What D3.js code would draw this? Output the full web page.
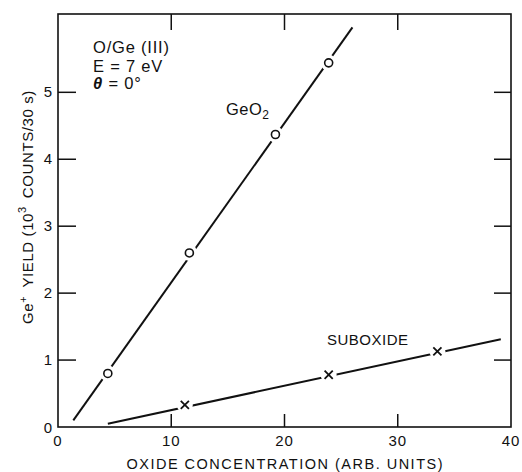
<!DOCTYPE html>
<html>
<head>
<meta charset='utf-8' />
<title>Ge+ yield vs oxide concentration</title>
<style>
  body { margin: 0; background: #fff; }
  svg text { font-family: 'Liberation Sans', Arial, sans-serif; fill: #111; }
</style>
</head>
<body>
<div id="wrapper"></div>
<script src='https://d3js.org/d3.v7.min.js' charset='utf-8'></script>
<script>
  // values
  const xTicks = [0, 10, 20, 30, 40]
  const yTicks = [0, 1, 2, 3, 4, 5]
  const geo2Points = [[4.4, 0.80], [11.6, 2.60], [19.2, 4.37], [23.9, 5.44]]
  const geo2Fit = [[1.35, 0.10], [26.0, 5.97]]
  const subPoints = [[11.2, 0.33], [23.9, 0.78], [33.5, 1.13]]
  const subFit = [[4.4, 0.05], [39.1, 1.31]]

  const width = 522, height = 472
  const margin = { top: 14, right: 11, bottom: 45, left: 58 }

  const svg = d3.select('#wrapper')
    .append('svg')
      .attr('width', width)
      .attr('height', height)

  const x = d3.scaleLinear()
    .domain([0, 40])
    .range([margin.left, width - margin.right])

  const y = d3.scaleLinear()
    .domain([0, 6.17])
    .range([height - margin.bottom, margin.top])

  const x0 = x(0), x1 = x(40), y0 = y(0), y1 = y.range()[1]

  // frame
  svg.append('rect')
    .attr('x', x0).attr('y', y1)
    .attr('width', x1 - x0).attr('height', y0 - y1)
    .attr('fill', 'none').attr('stroke', '#111').attr('stroke-width', 1.6)

  // inward ticks on all four sides
  const inner = xTicks.slice(1, -1)
  const innerY = yTicks.slice(1)
  svg.selectAll('.tb').data(inner).enter().append('line')
    .attr('x1', d => x(d)).attr('x2', d => x(d))
    .attr('y1', y0).attr('y2', y0 - 13)
    .attr('stroke', '#111').attr('stroke-width', 1.5)
  svg.selectAll('.tt').data(inner).enter().append('line')
    .attr('x1', d => x(d)).attr('x2', d => x(d))
    .attr('y1', y1).attr('y2', y1 + 16)
    .attr('stroke', '#111').attr('stroke-width', 1.5)
  svg.selectAll('.tl').data(innerY).enter().append('line')
    .attr('x1', x0).attr('x2', x0 + 18)
    .attr('y1', d => y(d)).attr('y2', d => y(d))
    .attr('stroke', '#111').attr('stroke-width', 1.5)
  svg.selectAll('.tr').data(innerY).enter().append('line')
    .attr('x1', x1).attr('x2', x1 - 17)
    .attr('y1', d => y(d)).attr('y2', d => y(d))
    .attr('stroke', '#111').attr('stroke-width', 1.5)

  // tick labels
  svg.selectAll('.xl').data(xTicks).enter().append('text')
    .attr('x', d => x(d)).attr('y', y0 + 19)
    .attr('text-anchor', 'middle').attr('font-size', 15)
    .attr('letter-spacing', 1)
    .text(d => d)
  svg.selectAll('.yl').data(yTicks).enter().append('text')
    .attr('x', x0 - 6).attr('y', d => y(d) + 5 + (d === 0 ? 1 : 0))
    .attr('text-anchor', 'end').attr('font-size', 15)
    .text(d => d)

  // axis titles
  svg.append('text')
    .attr('x', (x0 + x1) / 2).attr('y', 469)
    .attr('text-anchor', 'middle').attr('font-size', 14.5)
    .attr('textLength', 316).attr('lengthAdjust', 'spacing')
    .text('OXIDE CONCENTRATION (ARB. UNITS)')

  const yt = svg.append('text')
    .attr('transform', 'translate(33,207) rotate(-90)')
    .attr('text-anchor', 'middle').attr('font-size', 15)
    .attr('letter-spacing', 0.6)
  yt.append('tspan').text('Ge')
  yt.append('tspan').attr('dy', -6).attr('font-size', 11).text('+')
  yt.append('tspan').attr('dy', 6).text('\u2002YIELD (10')
  yt.append('tspan').attr('dy', -7).attr('font-size', 11).text('3')
  yt.append('tspan').attr('dy', 7).text('\u2002COUNTS/30 s)')

  // fitted lines
  const line = d3.line().x(d => x(d[0])).y(d => y(d[1]))
  svg.append('path').datum(geo2Fit).attr('d', line)
    .attr('fill', 'none').attr('stroke', '#111').attr('stroke-width', 2)
  svg.append('path').datum(subFit).attr('d', line)
    .attr('fill', 'none').attr('stroke', '#111').attr('stroke-width', 2)

  // gaps in the lines around the markers
  svg.selectAll('.gap').data(geo2Points.concat(subPoints)).enter().append('circle')
    .attr('cx', d => x(d[0])).attr('cy', d => y(d[1])).attr('r', 8)
    .attr('fill', '#fff')

  // GeO2 markers: open circles
  svg.selectAll('.geo').data(geo2Points).enter().append('circle')
    .attr('cx', d => x(d[0])).attr('cy', d => y(d[1])).attr('r', 4)
    .attr('fill', 'none').attr('stroke', '#111').attr('stroke-width', 1.6)

  // suboxide markers: crosses
  const cross = d3.symbol().type(d3.symbolX).size(45)
  svg.selectAll('.sub').data(subPoints).enter().append('path')
    .attr('transform', d => `translate(${x(d[0])},${y(d[1])})`)
    .attr('d', cross)
    .attr('fill', 'none').attr('stroke', '#111').attr('stroke-width', 1.8)

  // annotations
  const notes = ['O/Ge (III)', 'E = 7 eV']
  svg.selectAll('.note').data(notes).enter().append('text')
    .attr('x', 93).attr('y', (d, i) => 53 + i * 19)
    .attr('font-size', 16.5).attr('letter-spacing', 0.8)
    .text(d => d)
  const th = svg.append('text').attr('x', 93).attr('y', 89)
    .attr('font-size', 16.5).attr('letter-spacing', 0.8)
  th.append('tspan').attr('font-style', 'italic').attr('font-weight', 'bold').text('\u03b8')
  th.append('tspan').text(' = 0\u00b0')

  const g = svg.append('text').attr('x', 226).attr('y', 115)
    .attr('font-size', 16.5).attr('letter-spacing', 0.5)
  g.append('tspan').text('GeO')
  g.append('tspan').attr('dy', 4).attr('font-size', 12).text('2')

  svg.append('text').attr('x', 327).attr('y', 345)
    .attr('font-size', 15).attr('letter-spacing', 0.5)
    .text('SUBOXIDE')
</script>
</body>
</html>
